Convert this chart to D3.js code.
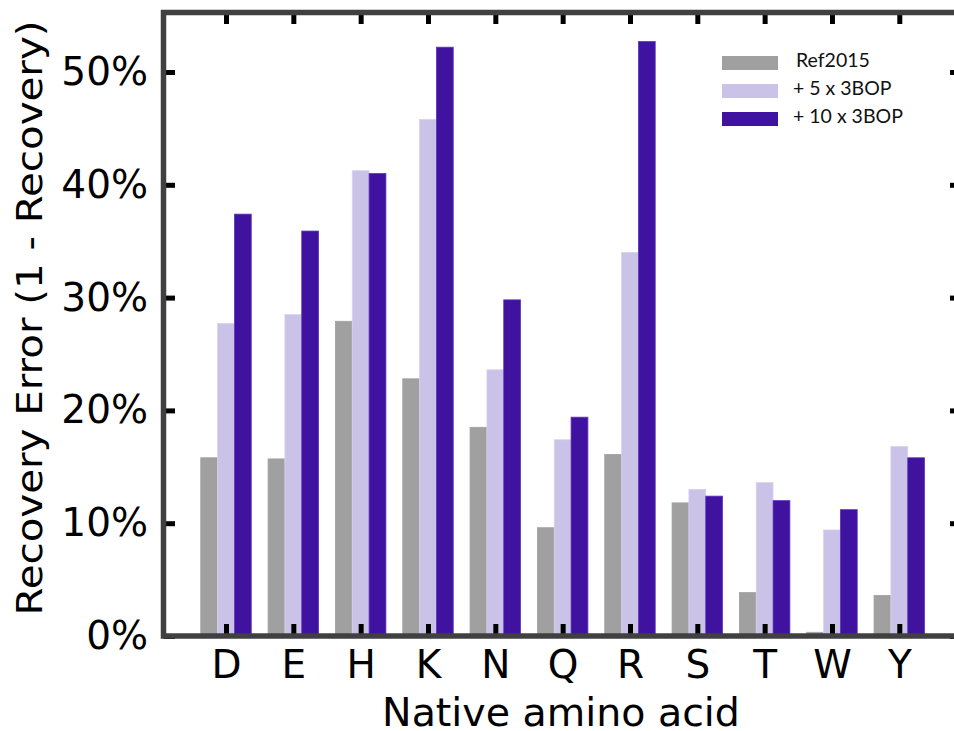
<!DOCTYPE html>
<html>
<head>
<meta charset="utf-8">
<script src="https://cdn.jsdelivr.net/npm/d3@7"></script>
<style>
  body { margin: 0; background: white; }
  svg { display: block; }
</style>
</head>
<body>
<svg id="chart" width="954" height="731"></svg>
<script>
// amino acids along the x axis
var aminoAcids = ["D", "E", "H", "K", "N", "Q", "R", "S", "T", "W", "Y"];
// recovery error per amino acid (fractions)
var ref2015  = [0.158, 0.157, 0.279, 0.228, 0.185, 0.096, 0.161, 0.118, 0.0385, 0.0033, 0.036];
var bop5     = [0.277, 0.285, 0.4125, 0.458, 0.236, 0.174, 0.340, 0.130, 0.136, 0.094, 0.168];
var bop10    = [0.374, 0.359, 0.410, 0.522, 0.298, 0.194, 0.527, 0.124, 0.120, 0.112, 0.158];
var seriesNames = ["Ref2015", "+ 5 x 3BOP", "+ 10 x 3BOP"];
var yTicks = [0, 0.1, 0.2, 0.3, 0.4, 0.5];

var seriesColors = ["#a0a0a0", "#cbc3e7", "#3f12a0"];
var seriesEdges  = ["#a0a0a0", "#d9d2ef", "#5d35c4"];

var svg = d3.select("#chart");

// plot frame (spine centres)
var plotLeft = 163.5, plotRight = 961.5, plotTop = 12.5, plotBottom = 636;

var x = d3.scalePoint()
    .domain(aminoAcids)
    .range([226, 899.3]);
var barW = x.step() * 0.25;

var y = d3.scaleLinear()
    .domain([0, 0.5])
    .range([plotBottom, 72]);

var allSeries = [ref2015, bop5, bop10];

// bars, one group per series
allSeries.forEach(function (vals, s) {
    svg.append("g")
        .selectAll("rect")
        .data(vals)
        .enter()
        .append("rect")
        .attr("x", function (d, i) { return x(aminoAcids[i]) + (s - 1.5) * barW })
        .attr("y", function (d) { return y(d) })
        .attr("width", barW)
        .attr("height", function (d) { return plotBottom - y(d) })
        .style("fill", seriesColors[s])
        .style("stroke", seriesEdges[s])
        .style("stroke-width", 0.8)
})

var fmt = function (d) { return Math.round(d * 100) + "%" };

// axes with inward ticks
function styleAxis(g) {
    g.select(".domain").remove();
    g.selectAll(".tick line").style("stroke", "#000").style("stroke-width", 5);
    g.selectAll(".tick text")
        .style("font-family", "DejaVu Sans")
        .style("font-size", "39px")
        .style("fill", "#000");
}

svg.append("g")
    .attr("transform", "translate(" + plotLeft + ",0)")
    .call(d3.axisLeft(y).tickValues(yTicks).tickFormat(fmt).tickSize(-11.5).tickPadding(15.5))
    .call(styleAxis);

svg.append("g")
    .attr("transform", "translate(" + plotRight + ",0)")
    .call(d3.axisRight(y).tickValues(yTicks).tickFormat("").tickSize(-11.5))
    .call(styleAxis);

svg.append("g")
    .attr("transform", "translate(0," + plotBottom + ")")
    .call(d3.axisBottom(x).tickSize(-12).tickPadding(14))
    .call(styleAxis);

svg.append("g")
    .attr("transform", "translate(0," + plotTop + ")")
    .call(d3.axisTop(x).tickFormat("").tickSize(-11.5))
    .call(styleAxis);

// frame
svg.append("rect")
    .attr("x", plotLeft)
    .attr("y", plotTop)
    .attr("width", plotRight - plotLeft)
    .attr("height", plotBottom - plotTop)
    .style("fill", "none")
    .style("stroke", "#404040")
    .style("stroke-width", 5.5);

// axis titles
svg.append("text")
    .attr("x", 561)
    .attr("y", 726)
    .attr("text-anchor", "middle")
    .style("font-family", "DejaVu Sans")
    .style("font-size", "39.5px")
    .text("Native amino acid");

svg.append("text")
    .attr("transform", "translate(42,318) rotate(-90)")
    .attr("text-anchor", "middle")
    .attr("textLength", 595)
    .attr("lengthAdjust", "spacingAndGlyphs")
    .style("font-family", "DejaVu Sans")
    .style("font-size", "35px")
    .text("Recovery Error (1 - Recovery)");

// legend
var legend = svg.append("g")
    .selectAll("g")
    .data(seriesNames)
    .enter()
    .append("g")
    .attr("transform", function (d, i) { return "translate(722," + (56 + 28 * i) + ")" });

legend.append("rect")
    .attr("width", 56)
    .attr("height", 14)
    .style("fill", function (d, i) { return seriesColors[i] });

legend.append("text")
    .attr("x", function (d, i) { return i == 0 ? 74 : 71 })
    .attr("y", 10.5)
    .style("font-family", "Lato")
    .style("font-size", "19.5px")
    .style("fill", "#111")
    .text(function (d) { return d });
</script>
</body>
</html>
